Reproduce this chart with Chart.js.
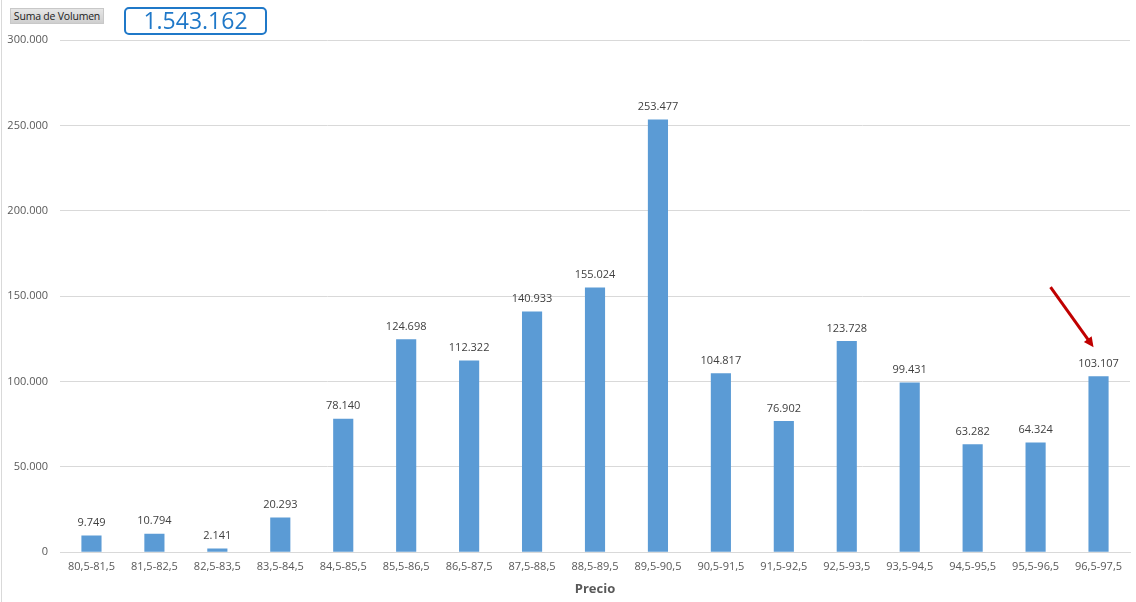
<!DOCTYPE html>
<html>
<head>
<meta charset="utf-8">
<script src="https://cdn.jsdelivr.net/npm/chart.js@4"></script>
<style>
  html, body { margin: 0; padding: 0; background: #fff; }
  #wrap { position: relative; width: 1136px; height: 602px; }
  #wrap canvas { position: absolute; left: 0; top: 0; }
  .field {
    position: absolute; left: 10px; top: 8px; width: 94px; height: 16px;
    background: linear-gradient(#e6e6e6, #cfcfcf); border: 1px solid #c8c8c8; box-sizing: border-box;
    font: 10.5px "Open Sans", sans-serif; color: #222; line-height: 14px; text-align: center;
    white-space: nowrap; overflow: hidden; letter-spacing: -0.2px;
  }
  .total {
    position: absolute; left: 124px; top: 7px; width: 143px; height: 28px; box-sizing: border-box;
    border: 2px solid #1f78c8; border-radius: 5px; color: #1f78c8;
    font: 23px "Open Sans", sans-serif; line-height: 23px; text-align: center;
  }
</style>
</head>
<body>
<div id="wrap">
  <canvas id="c" width="1136" height="602"></canvas>
  <div class="field">Suma de Volumen</div>
  <div class="total">1.543.162</div>
</div>
<script>
const categories = ['80,5-81,5', '81,5-82,5', '82,5-83,5', '83,5-84,5', '84,5-85,5', '85,5-86,5',
  '86,5-87,5', '87,5-88,5', '88,5-89,5', '89,5-90,5', '90,5-91,5', '91,5-92,5', '92,5-93,5',
  '93,5-94,5', '94,5-95,5', '95,5-96,5', '96,5-97,5'];
const volumes = [9749, 10794, 2141, 20293, 78140, 124698, 112322, 140933, 155024, 253477,
  104817, 76902, 123728, 99431, 63282, 64324, 103107];
const yTicks = [0, 50000, 100000, 150000, 200000, 250000, 300000];

const fmt = v => String(v).replace(/\B(?=(\d{3})+(?!\d))/g, '.');
const FONT = '"Open Sans", sans-serif';

// value labels above bars + arrow + left border
const extras = {
  id: 'extras',
  afterDatasetsDraw(chart) {
    const ctx = chart.ctx;
    ctx.save();
    ctx.font = '11px ' + FONT;
    ctx.fillStyle = '#404040';
    ctx.textAlign = 'center';
    ctx.textBaseline = 'bottom';
    chart.getDatasetMeta(0).data.forEach((bar, i) => {
      ctx.fillText(fmt(volumes[i]), bar.x, bar.y - 7);
    });
    // left border
    ctx.strokeStyle = '#d9d9d9';
    ctx.lineWidth = 1;
    ctx.beginPath();
    ctx.moveTo(1.5, 0);
    ctx.lineTo(1.5, 602);
    ctx.stroke();
    // red arrow pointing at last bar
    const last = chart.getDatasetMeta(0).data[volumes.length - 1];
    const x1 = last.x - 48, y1 = last.y - 89, x2 = last.x - 5, y2 = last.y - 29;
    ctx.strokeStyle = '#c00000';
    ctx.fillStyle = '#c00000';
    ctx.lineWidth = 3;
    ctx.beginPath();
    ctx.moveTo(x1, y1);
    ctx.lineTo(x2 - 4, y2 - 5.5);
    ctx.stroke();
    const a = Math.atan2(y2 - y1, x2 - x1);
    ctx.beginPath();
    ctx.moveTo(x2, y2);
    ctx.lineTo(x2 - 11 * Math.cos(a - 0.45), y2 - 11 * Math.sin(a - 0.45));
    ctx.lineTo(x2 - 11 * Math.cos(a + 0.45), y2 - 11 * Math.sin(a + 0.45));
    ctx.closePath();
    ctx.fill();
    ctx.restore();
  }
};

new Chart(document.getElementById('c'), {
  type: 'bar',
  data: {
    labels: categories,
    datasets: [{
      data: volumes,
      backgroundColor: '#5b9bd5',
      categoryPercentage: 1,
      barPercentage: 0.32
    }]
  },
  options: {
    responsive: false,
    animation: false,
    layout: { padding: { top: 40, right: 6, bottom: 1, left: 0 } },
    scales: {
      x: {
        grid: { display: false },
        border: { color: '#d9d9d9' },
        ticks: { color: '#595959', font: { family: FONT, size: 11 }, maxRotation: 0, padding: 0 },
        title: { display: true, text: 'Precio', color: '#595959', font: { family: FONT, size: 13, weight: 'bold' }, padding: { top: 8 } }
      },
      y: {
        min: 0,
        max: 300000,
        afterFit: s => { s.width = 60; },
        afterBuildTicks: s => { s.ticks = yTicks.map(v => ({ value: v })); },
        grid: { color: '#d9d9d9', drawTicks: false },
        border: { display: false },
        ticks: { color: '#595959', font: { family: FONT, size: 11 }, padding: 12, callback: v => fmt(v) }
      }
    },
    plugins: { legend: { display: false }, tooltip: { enabled: false } }
  },
  plugins: [extras]
});
</script>
</body>
</html>
